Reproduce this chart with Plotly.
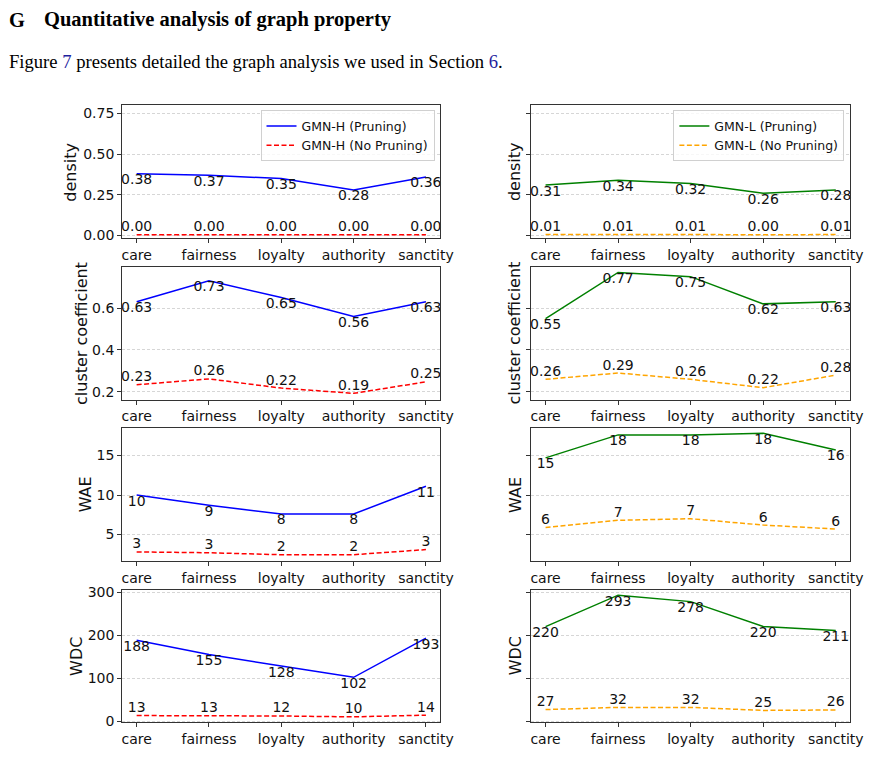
import plotly.graph_objects as go

W, H = 882, 757

categories = ["care", "fairness", "loyalty", "authority", "sanctity"]

# GMN-H (left column)
h_density_pruning = [0.38, 0.37, 0.35, 0.28, 0.36]
h_density_no_pruning = [0.004, 0.004, 0.004, 0.004, 0.004]
h_cluster_pruning = [0.63, 0.73, 0.65, 0.56, 0.63]
h_cluster_no_pruning = [0.234, 0.262, 0.218, 0.193, 0.248]
h_wae_pruning = [10.0, 8.7, 7.6, 7.6, 11.1]
h_wae_no_pruning = [2.8, 2.7, 2.45, 2.45, 3.1]
h_wdc_pruning = [188, 155, 128, 102, 193]
h_wdc_no_pruning = [13, 13, 12, 10, 14]

# GMN-L (right column)
l_density_pruning = [0.31, 0.34, 0.32, 0.26, 0.28]
l_density_no_pruning = [0.006, 0.007, 0.006, 0.004, 0.006]
l_cluster_pruning = [0.55, 0.77, 0.75, 0.62, 0.63]
l_cluster_no_pruning = [0.26, 0.29, 0.26, 0.22, 0.28]
l_wae_pruning = [14.7, 17.6, 17.6, 17.8, 15.7]
l_wae_no_pruning = [5.9, 6.8, 7.0, 6.2, 5.7]
l_wdc_pruning = [220, 293, 278, 220, 211]
l_wdc_no_pruning = [27, 32, 32, 25, 26]

metrics = ["density", "cluster coefficient", "WAE", "WDC"]
label_fmt = [".2f", ".2f", ".0f", ".0f"]
left_rows = [(h_density_pruning, h_density_no_pruning), (h_cluster_pruning, h_cluster_no_pruning),
             (h_wae_pruning, h_wae_no_pruning), (h_wdc_pruning, h_wdc_no_pruning)]
right_rows = [(l_density_pruning, l_density_no_pruning), (l_cluster_pruning, l_cluster_no_pruning),
              (l_wae_pruning, l_wae_no_pruning), (l_wdc_pruning, l_wdc_no_pruning)]

# axis settings per row
y_ranges = [[-0.017, 0.80], [0.163, 0.797], [1.65, 18.45], [-3, 306]]
y_ticks = [[0, 0.25, 0.5, 0.75], [0.2, 0.4, 0.6], [5, 10, 15], [0, 100, 200, 300]]
y_tickfmt = [".2f", ".1f", "d", "d"]

# pixel layout
row_tops = [102, 266, 430, 594]
row_h = 135
col_x = [(124, 447), (539, 863)]
title_x = [[72, 82, 87, 77], [523, 522, 523, 523]]


def px(x):
    return x / W


def py(y):
    return 1 - y / H


FONT = "DejaVu Sans"
AX_COLOR = "#333333"
TXT = "#111111"

series_styles = [
    [("GMN-H (Pruning)", "blue", "solid"), ("GMN-H (No Pruning)", "red", "5px,2.5px")],
    [("GMN-L (Pruning)", "green", "solid"), ("GMN-L (No Pruning)", "orange", "5px,2.5px")],
]

fig = go.Figure()
annotations = []

for col, rows in enumerate([left_rows, right_rows]):
    for r, (pruned, unpruned) in enumerate(rows):
        idx = col * 4 + r + 1
        xa = "x" if idx == 1 else f"x{idx}"
        ya = "y" if idx == 1 else f"y{idx}"
        fmt = label_fmt[r]
        for k, vals in enumerate([pruned, unpruned]):
            name, color, dash = series_styles[col][k]
            fig.add_trace(go.Scatter(
                x=categories, y=vals, name=name, mode="lines+text",
                line=dict(color=color, width=1.5, dash=dash),
                texttemplate="%{y:" + fmt + "}",
                textposition="bottom center" if k == 0 else "top center",
                textfont=dict(family=FONT, size=14, color=TXT),
                cliponaxis=False,
                xaxis=xa, yaxis=ya,
                legend="legend" if col == 0 else "legend2",
                showlegend=(r == 0),
                hoverinfo="skip",
            ))

        x0, x1 = col_x[col]
        top = row_tops[r]
        bot = top + row_h
        ax_common = dict(showline=True, linecolor=AX_COLOR, linewidth=1, mirror=True,
                         ticks="outside", ticklen=4, tickcolor=AX_COLOR, zeroline=False)
        fig.layout[xa.replace("x", "xaxis")] = dict(
            domain=[px(x0), px(x1)], anchor=ya, type="category",
            range=[-0.2, 4.2], showgrid=False,
            tickfont=dict(family=FONT, size=14, color=TXT), **ax_common)
        fig.layout[ya.replace("y", "yaxis")] = dict(
            domain=[py(bot), py(top)], anchor=xa, range=y_ranges[r],
            tickvals=y_ticks[r], tickformat=y_tickfmt[r], showticklabels=(col == 0),
            showgrid=True, gridcolor="#d6d6d6", gridwidth=0.8, griddash="3px,2px",
            tickfont=dict(family=FONT, size=14, color=TXT), **ax_common)

        annotations.append(dict(
            text=metrics[r], xref="paper", yref="paper",
            x=px(title_x[col][r]), y=py(top + row_h / 2),
            textangle=-90, showarrow=False, xanchor="center", yanchor="middle",
            font=dict(family=FONT, size=16, color=TXT)))

# page header text above the figure
head_font = dict(family="Liberation Serif", size=20.5, color="black")
annotations.append(dict(text="<b>G</b>", xref="paper", yref="paper", x=px(7), y=py(15),
                        xanchor="left", yanchor="middle", showarrow=False, font=head_font))
annotations.append(dict(text="<b>Quantitative analysis of graph property</b>", xref="paper", yref="paper",
                        x=px(43), y=py(15), xanchor="left", yanchor="middle", showarrow=False,
                        font=head_font))
annotations.append(dict(
    text='Figure <span style="color:#1f1f9e">7</span> presents detailed the graph analysis we used in Section '
         '<span style="color:#1f1f9e">6</span>.',
    xref="paper", yref="paper", x=px(7), y=py(57), xanchor="left", yanchor="middle",
    showarrow=False, font=dict(family="Liberation Serif", size=18.6, color="black")))

legend_common = dict(xanchor="right", yanchor="top", y=py(107),
                     bgcolor="rgba(255,255,255,0.8)", bordercolor="#d0d0d0", borderwidth=1,
                     tracegroupgap=0, itemwidth=30,
                     font=dict(family=FONT, size=12.5, color=TXT))

fig.update_layout(
    width=W, height=H,
    margin=dict(l=0, r=0, t=0, b=0),
    paper_bgcolor="white", plot_bgcolor="white",
    annotations=annotations,
    legend=dict(x=px(441), **legend_common),
    legend2=dict(x=px(857), **legend_common),
)

# drop the default body margin so the figure fills the window exactly
fig.write_html("out.html", config={"displayModeBar": False},
               post_script="document.body.style.margin='0';document.body.style.overflow='hidden';")
